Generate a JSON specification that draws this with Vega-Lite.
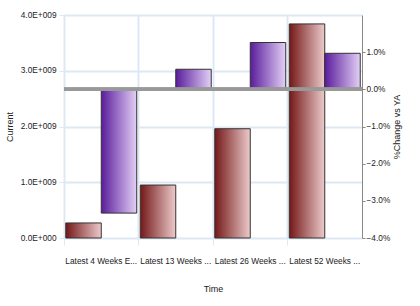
{
  "$schema": "https://vega.github.io/schema/vega-lite/v6.json",
  "autosize": {"type": "none"},
  "padding": {"left": 64, "top": 15, "right": 58, "bottom": 68},
  "width": 298,
  "height": 223,
  "background": "white",
  "config": {
    "font": "Liberation Sans",
    "view": {"stroke": null},
    "axis": {"labelFont": "Liberation Sans", "titleFont": "Liberation Sans", "labelFontSize": 8.3, "titleFontSize": 9, "labelColor": "#222", "titleColor": "#222", "titleFontWeight": "normal", "gridColor": "#dde8f4", "gridWidth": 2, "tickColor": "#dde8f4", "domainColor": "#dde8f4"}
  },
  "data": {
    "values": [
      {"time": "Latest 4 Weeks E...", "series": "Current", "value": 270000000},
      {"time": "Latest 13 Weeks ...", "series": "Current", "value": 950000000},
      {"time": "Latest 26 Weeks ...", "series": "Current", "value": 1960000000},
      {"time": "Latest 52 Weeks ...", "series": "Current", "value": 3840000000},
      {"time": "Latest 4 Weeks E...", "series": "%Change vs YA", "value": -3.33},
      {"time": "Latest 13 Weeks ...", "series": "%Change vs YA", "value": 0.54},
      {"time": "Latest 26 Weeks ...", "series": "%Change vs YA", "value": 1.26},
      {"time": "Latest 52 Weeks ...", "series": "%Change vs YA", "value": 0.97}
    ]
  },
  "encoding": {
    "x": {
      "field": "time", "type": "nominal", "sort": null,
      "scale": {"paddingInner": 0, "paddingOuter": 0},
      "axis": {"title": "Time", "labelAngle": 0, "bandPosition": 0, "tickSize": 7, "labelPadding": 11, "titlePadding": 20, "grid": true, "labelLimit": 100}
    },
    "xOffset": {
      "field": "series", "type": "nominal",
      "scale": {"domain": ["Current", "%Change vs YA"], "paddingInner": 0, "paddingOuter": 0.05}
    }
  },
  "layer": [
    {
      "transform": [{"filter": "datum.series == 'Current'"}],
      "mark": {"type": "bar", "stroke": "#333333", "strokeWidth": 1,
        "color": {"gradient": "linear", "x1": 0, "x2": 1, "y1": 0, "y2": 0, "stops": [{"offset": 0, "color": "#741818"}, {"offset": 1, "color": "#eccaca"}]}},
      "encoding": {
        "y": {"field": "value", "type": "quantitative", "scale": {"domain": [0, 4000000000]},
          "axis": {"title": "Current", "orient": "left", "values": [0, 1000000000, 2000000000, 3000000000, 4000000000],
            "labelExpr": "datum.value == 0 ? '0.0E+000' : format(datum.value / 1e9, '.1f') + 'E+009'",
            "domain": true, "tickSize": 5, "labelPadding": 3, "titlePadding": 6}}
      }
    },
    {
      "layer": [
        {
          "transform": [{"filter": "datum.series == '%Change vs YA'"}],
          "mark": {"type": "bar", "stroke": "#333333", "strokeWidth": 1,
            "color": {"gradient": "linear", "x1": 0, "x2": 1, "y1": 0, "y2": 0, "stops": [{"offset": 0, "color": "#5a1c9c"}, {"offset": 1, "color": "#e2cff5"}]}},
          "encoding": {
            "y": {"field": "value", "type": "quantitative", "scale": {"domain": [-4, 2]},
              "axis": {"title": "%Change vs YA", "orient": "right", "titleAngle": -90, "values": [-4, -3, -2, -1, 0, 1],
                "labelExpr": "format(datum.value, '.1f') + '%'", "domain": true, "domainColor": "#888888", "tickColor": "#888888", "tickSize": 3, "labelPadding": 1, "titlePadding": 12}},
            "y2": {"datum": 0}
          }
        },
        {
          "mark": {"type": "rule", "color": "#999999", "strokeWidth": 3},
          "encoding": {"y": {"datum": 0}, "x": null, "xOffset": null}
        }
      ]
    }
  ],
  "resolve": {"scale": {"y": "independent"}, "axis": {"y": "independent"}}
}
